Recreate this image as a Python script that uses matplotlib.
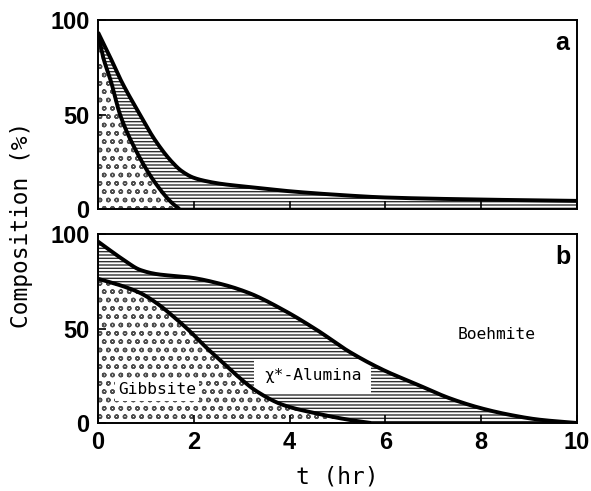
import matplotlib
matplotlib.use("Agg")
import matplotlib.pyplot as plt
import numpy as np

# ---- data ----
# panel a
t_a_total = [0, 0.25, 0.49, 0.84, 1.19, 1.54, 1.75, 2.0, 2.3, 2.6, 3.3, 4.0, 5.0, 6.0, 8.0, 10.0]
total_a   = [93.5, 80.5, 67.5, 51.5, 36.5, 25.0, 20.0, 16.5, 14.5, 13.2, 11.3, 9.4, 7.5, 6.1, 5.0, 4.3]
t_a_gibb  = [0, 0.1, 0.27, 0.46, 0.77, 1.19, 1.54, 1.7]
gibb_a    = [93, 81, 67.5, 50, 32, 14, 3.3, 0]

# panel b
t_b_total = [0, 0.53, 0.88, 1.22, 1.92, 2.62, 3.17, 3.87, 4.57, 5.26, 5.96, 6.65, 7.35, 8.0, 8.6, 9.2, 10.0]
total_b   = [96, 86.4, 81, 78.8, 77, 73.2, 68.6, 59.8, 49.2, 37.5, 28, 20.5, 13, 7.8, 4.3, 1.8, 0]
t_b_gibb  = [0, 0.53, 0.88, 1.22, 1.57, 1.92, 2.27, 2.62, 2.96, 3.31, 3.87, 4.57, 5.26, 5.7]
gibb_b    = [76.3, 72.3, 68.8, 63.5, 56.4, 48.5, 39.7, 31.7, 23.8, 16.8, 9.5, 5.0, 1.6, 0]

x_ticks = [0, 2, 4, 6, 8, 10]
y_ticks = [0, 50, 100]
panel_labels = ["a", "b"]
region_labels = ["Gibbsite", "χ*-Alumina", "Boehmite"]

plt.rcParams['hatch.linewidth'] = 1.0
plt.rcParams['font.family'] = ['Liberation Sans', 'DejaVu Sans']

fig = plt.figure(figsize=(5.91, 4.91), dpi=100)
axA = fig.add_axes([98/591, 1-209/491, 479/591, 189/491])
axB = fig.add_axes([98/591, 1-423/491, 479/591, 189/491])

mono = 'DejaVu Sans Mono'


def smooth(tk, yk, n=400):
    tk = np.asarray(tk, float); yk = np.asarray(yk, float)
    # monotone cubic (PCHIP) interpolation between the read points
    h = np.diff(tk); d = np.diff(yk) / h
    m = np.zeros_like(yk)
    for i in range(1, len(yk)-1):
        if d[i-1]*d[i] <= 0:
            m[i] = 0
        else:
            w1 = 2*h[i] + h[i-1]; w2 = h[i] + 2*h[i-1]
            m[i] = (w1 + w2) / (w1/d[i-1] + w2/d[i])
    m[0] = d[0]; m[-1] = d[-1]
    tt = np.linspace(tk[0], tk[-1], n)
    idx = np.clip(np.searchsorted(tk, tt) - 1, 0, len(h)-1)
    s = (tt - tk[idx]) / h[idx]
    h00 = 2*s**3 - 3*s**2 + 1; h10 = s**3 - 2*s**2 + s
    h01 = -2*s**3 + 3*s**2; h11 = s**3 - s**2
    yy = h00*yk[idx] + h10*h[idx]*m[idx] + h01*yk[idx+1] + h11*h[idx]*m[idx+1]
    return tt, yy


def draw(ax, tt_tot, tot, tt_g, g):
    t1, y1 = smooth(tt_tot, tot)
    t2, y2 = smooth(tt_g, g)
    y2i = np.interp(t1, t2, y2, right=0)
    ax.fill_between(t1, y2i, y1, facecolor='white', edgecolor='#303030',
                    hatch='-----', linewidth=0, zorder=1)
    ax.fill_between(t2, 0, y2, facecolor='white', edgecolor='#505050',
                    hatch='oo', linewidth=0, zorder=1)
    ax.plot(t1, y1, color='black', lw=2.8, zorder=4, solid_capstyle='butt')
    ax.plot(t2, y2, color='black', lw=2.8, zorder=4, solid_capstyle='butt')


draw(axA, t_a_total, total_a, t_a_gibb, gibb_a)
draw(axB, t_b_total, total_b, t_b_gibb, gibb_b)

for ax, lab in zip([axA, axB], panel_labels):
    ax.set_xlim(0, 10)
    ax.set_ylim(0, 100)
    ax.set_xticks(x_ticks)
    ax.set_yticks(y_ticks)
    ax.tick_params(direction='in', length=6, width=1.2, labelsize=17, pad=6)
    for lbl in ax.get_xticklabels() + ax.get_yticklabels():
        lbl.set_fontweight('bold')
    for sp in ax.spines.values():
        sp.set_linewidth(1.4)
    ax.text(9.7, 88, lab, fontsize=18, fontweight='bold', ha='center', va='center')

axA.tick_params(labelbottom=False)

axB.text(1.23, 17.5, region_labels[0], family=mono, fontsize=11.7, ha='center', va='center',
         bbox=dict(boxstyle='square,pad=0.2', fc='white', ec='none'), zorder=3)
axB.text(4.48, 25, region_labels[1], family=mono, fontsize=11.7, ha='center', va='center',
         bbox=dict(boxstyle='square,pad=0.6', fc='white', ec='none'), zorder=3)
axB.text(8.32, 47, region_labels[2], family=mono, fontsize=11.7, ha='center', va='center', zorder=3)

axB.set_xlabel('t (hr)', family=mono, fontsize=16.5, labelpad=8)
fig.text(22/591, 1-225/491, 'Composition (%)', family=mono, fontsize=16.5,
         rotation=90, ha='center', va='center')

fig.savefig('out.png', dpi=100)
